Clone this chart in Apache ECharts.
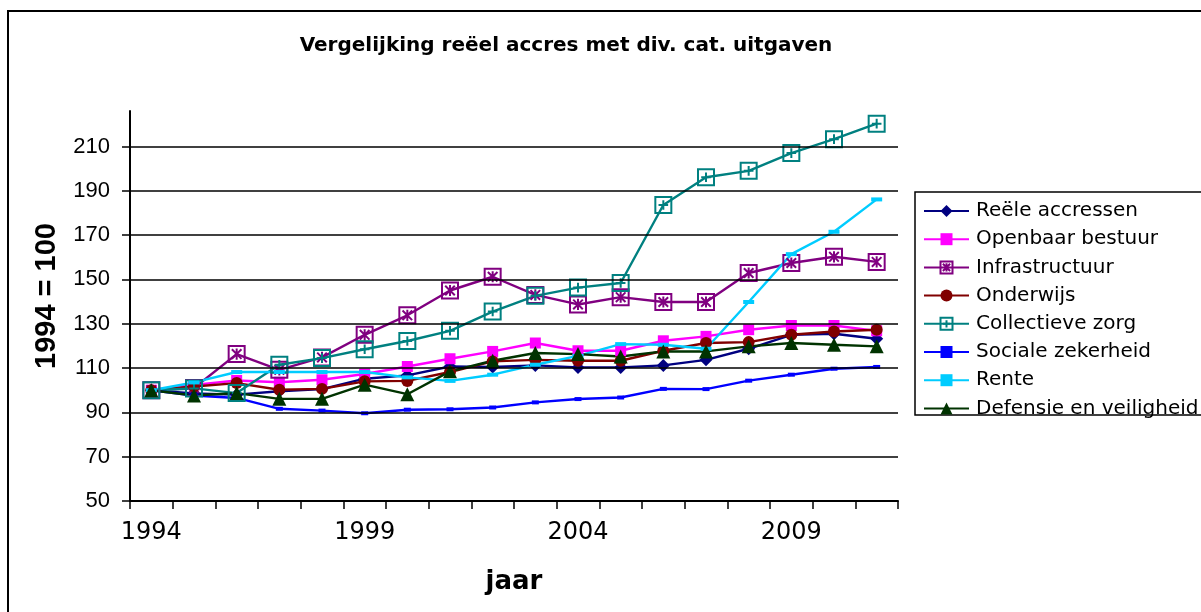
<!DOCTYPE html>
<html>
<head>
<meta charset="utf-8">
<title>Vergelijking reëel accres met div. cat. uitgaven</title>
<script src="https://cdn.jsdelivr.net/npm/echarts@6/dist/echarts.min.js"></script>
<style>
  html, body { margin: 0; padding: 0; background: #fff; }
  #chart { width: 1201px; height: 612px; }
</style>
</head>
<body>
<div id="chart"></div>
<script>
// jaren op de x-as
const years = ['1994', '1995', '1996', '1997', '1998', '1999', '2000', '2001', '2002',
  '2003', '2004', '2005', '2006', '2007', '2008', '2009', '2010', '2011'];
// labels op de y-as
const yTicks = [50, 70, 90, 110, 130, 150, 170, 190, 210];
const gridValues = [70, 90, 110, 130, 150, 170, 190, 210];

// index, 1994 = 100
const reeleAccressen = [100, 98.5, 98, 99.5, 100.5, 105.2, 106.7, 110.7, 110.5, 111.2, 110.3, 110.3, 111.2, 113.7, 118.7, 125.0, 125.5, 123.2];
const openbaarBestuur = [100, 102.4, 104.4, 103.6, 104.7, 107.3, 110.7, 114.2, 117.5, 121.3, 117.8, 117.8, 122.3, 124.3, 127.3, 129.2, 129.2, 126.8];
const infrastructuur = [100, 101, 116.3, 109.2, 114.8, 125, 133.8, 145, 151.2, 143, 138.7, 142, 139.8, 139.8, 152.9, 157.4, 160.2, 157.9];
const onderwijs = [100, 101.7, 103.2, 100.2, 100.6, 104, 104.2, 108.2, 113, 113.7, 113.3, 113.3, 117.8, 121.3, 121.7, 125, 126.5, 127.3];
const collectieveZorg = [100, 100.8, 98.7, 111.5, 114.5, 118.5, 122.2, 126.8, 135.5, 142.6, 146.3, 148.4, 183.6, 196.1, 199, 207, 213.3, 220.3];
const socialeZekerheid = [100, 97.6, 96.5, 91.6, 90.8, 89.6, 91.2, 91.4, 92.2, 94.5, 96, 96.7, 100.6, 100.5, 104.3, 107, 109.7, 110.5];
const rente = [100, 103.5, 108.2, 108.2, 108.2, 108.2, 105.8, 104.2, 107, 111.5, 115.5, 120.8, 120.5, 118.7, 139.8, 161.4, 171.5, 186.1];
const defensie = [100, 97.6, 98.7, 96.1, 96.1, 102.5, 98.2, 108.5, 113.3, 116.8, 116.3, 115.2, 117.5, 117.5, 119.8, 121.3, 120.5, 119.8];

const boxStar = 'path://M0,0H10V10H0Z M2,2L8,8 M8,2L2,8 M5,1.5V8.5';
const boxPlus = 'path://M0,0H10V10H0Z M5,2V8 M2,5H8';

function lineSeries(name, data, color, symbol, size, hollow) {
  return {
    name: name,
    type: 'line',
    data: data,
    symbol: symbol,
    symbolSize: size,
    lineStyle: { color: color, width: 2.4 },
    itemStyle: hollow
      ? { color: 'rgba(0,0,0,0)', borderColor: color, borderWidth: 2 }
      : { color: color },
    z: 2
  };
}

const seriesList = [
  lineSeries('Reële accressen', reeleAccressen, '#000080', 'diamond', 13),
  lineSeries('Openbaar bestuur', openbaarBestuur, '#ff00ff', 'rect', 11),
  lineSeries('Infrastructuur', infrastructuur, '#800080', boxStar, 16, true),
  lineSeries('Onderwijs', onderwijs, '#800000', 'circle', 12),
  lineSeries('Collectieve zorg', collectieveZorg, '#008080', boxPlus, 16, true),
  lineSeries('Sociale zekerheid', socialeZekerheid, '#0000ff', 'rect', [7, 4]),
  lineSeries('Rente', rente, '#00ccff', 'rect', [11, 4]),
  lineSeries('Defensie en veiligheid', defensie, '#003300', 'triangle', 14)
];

// horizontale hulplijnen
seriesList.unshift({
  name: 'raster',
  type: 'line',
  data: [],
  z: 1,
  silent: true,
  markLine: {
    silent: true,
    symbol: ['none', 'none'],
    label: { show: false },
    lineStyle: { color: '#000', width: 1.6, type: 'solid' },
    data: gridValues.map(v => ({ yAxis: v }))
  }
});

const chart = echarts.init(document.getElementById('chart'));
chart.setOption({
  animation: false,
  backgroundColor: '#fff',
  grid: { left: 130, right: 303, top: 111, bottom: 111 },
  legend: {
    data: seriesList.slice(1).map(s => s.name),
    orient: 'vertical',
    left: 923,
    top: 201,
    padding: 0,
    itemWidth: 45,
    itemHeight: 15,
    itemGap: 8.2,
    textStyle: { fontFamily: 'DejaVu Sans', fontSize: 20, color: '#000', lineHeight: 19, padding: [0, 0, 0, 2] }
  },
  xAxis: {
    type: 'category',
    data: years,
    boundaryGap: true,
    axisLine: { lineStyle: { color: '#000', width: 2 } },
    axisTick: { show: true, interval: 0, length: 8, lineStyle: { color: '#000', width: 1.5 } },
    axisLabel: { interval: 4, margin: 20, fontFamily: 'DejaVu Sans', fontSize: 24, color: '#000' },
    splitLine: { show: false }
  },
  yAxis: {
    type: 'value',
    min: 50,
    max: 226,
    axisLine: { show: true, lineStyle: { color: '#000', width: 2 } },
    axisTick: { show: true, customValues: yTicks, length: 8, lineStyle: { color: '#000', width: 1.5 } },
    axisLabel: { customValues: yTicks, margin: 20, fontFamily: 'Liberation Sans', fontSize: 22, color: '#000' },
    splitLine: { show: false }
  },
  graphic: [
    {
      type: 'rect', silent: true, z: 0,
      shape: { x: 8, y: 11, width: 1400, height: 800 },
      style: { fill: 'none', stroke: '#000', lineWidth: 2 }
    },
    {
      type: 'rect', silent: true, z: 0,
      shape: { x: 915, y: 192, width: 400, height: 223 },
      style: { fill: 'none', stroke: '#000', lineWidth: 1.5 }
    },
    {
      type: 'text', x: 566, y: 46,
      style: {
        text: 'Vergelijking reëel accres met div. cat. uitgaven',
        font: 'bold 20px "DejaVu Sans"', fill: '#000',
        textAlign: 'center', textVerticalAlign: 'middle'
      }
    },
    {
      type: 'text', x: 47, y: 296, rotation: Math.PI / 2,
      style: {
        text: '1994 = 100',
        font: 'bold 29px "Liberation Sans"', fill: '#000',
        textAlign: 'center', textVerticalAlign: 'middle'
      }
    },
    {
      type: 'text', x: 514, y: 582,
      style: {
        text: 'jaar',
        font: 'bold 26px "DejaVu Sans"', fill: '#000',
        textAlign: 'center', textVerticalAlign: 'middle'
      }
    }
  ],
  series: seriesList
});
</script>
</body>
</html>
